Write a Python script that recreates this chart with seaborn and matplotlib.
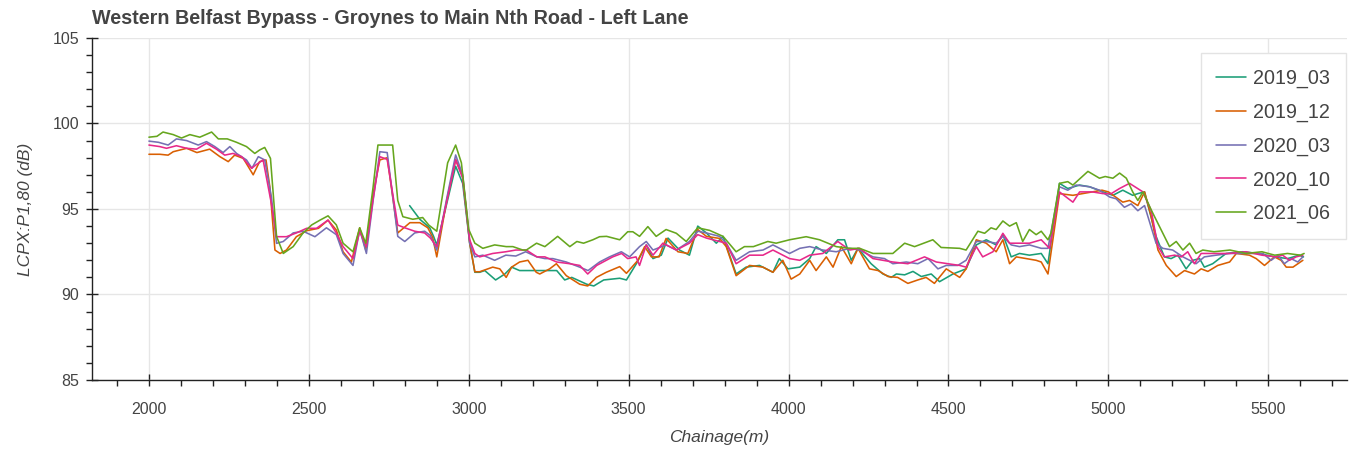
import pandas as pd
import matplotlib
matplotlib.use('Agg')
import matplotlib.pyplot as plt
from matplotlib.ticker import MultipleLocator
import seaborn as sns

# Survey runs (chainage in m, LCPX:P1,80 in dB)
surveys = ['2019_03', '2019_12', '2020_03', '2020_10', '2021_06']

ch_2019_03 = [2815, 2847, 2878, 2890, 2900, 2931, 2959, 2981, 3003, 3019, 3034, 3050, 3084, 3113,
              3134, 3159, 3212, 3275, 3300, 3322, 3369, 3391, 3422, 3472, 3493, 3524, 3555, 3576,
              3602, 3623, 3659, 3690, 3716, 3743, 3774, 3795, 3836, 3867, 3909, 3951, 3971, 3998,
              4035, 4066, 4086, 4118, 4154, 4175, 4196, 4217, 4258, 4295, 4321, 4337, 4363, 4389,
              4415, 4446, 4472, 4514, 4555, 4587, 4618, 4649, 4670, 4696, 4722, 4753, 4790, 4811,
              4847, 4873, 4910, 4941, 4983, 5014, 5045, 5076, 5092, 5113, 5149, 5175, 5196, 5217,
              5243, 5264, 5285, 5300, 5326, 5368, 5420, 5470, 5520, 5560, 5597, 5610]
db_2019_03 = [95.2, 94.4, 93.9, 93.4, 92.9, 95.3, 97.5, 96.5, 93.0, 91.3, 91.3, 91.4, 90.85, 91.2,
              91.6, 91.4, 91.4, 91.4, 90.85, 91.0, 90.6, 90.5, 90.85, 90.95, 90.85, 91.8, 92.9, 92.1,
              92.3, 93.3, 92.6, 92.3, 94.0, 93.6, 93.0, 93.4, 91.2, 91.6, 91.7, 91.3, 92.1, 91.5,
              91.6, 92.1, 92.8, 92.4, 93.2, 93.2, 92.0, 92.7, 91.8, 91.2, 91.0, 91.2, 91.15, 91.35,
              91.05, 91.2, 90.75, 91.2, 91.5, 92.9, 93.2, 92.9, 93.5, 92.2, 92.4, 92.3, 92.4, 91.8,
              96.5, 96.2, 96.4, 96.3, 96.0, 95.8, 96.1, 95.8, 95.9, 96.0, 93.4, 92.2, 92.1, 92.3,
              91.5, 92.0, 92.1, 91.6, 91.8, 92.4, 92.5, 92.4, 92.2, 92.1, 92.3, 92.2]

ch_2019_12 = [2000, 2034, 2060, 2076, 2118, 2150, 2190, 2222, 2248, 2268, 2295, 2326, 2346, 2366,
              2378, 2394, 2410, 2430, 2461, 2493, 2530, 2560, 2586, 2607, 2633, 2659, 2678, 2701,
              2722, 2745, 2778, 2816, 2847, 2872, 2887, 2900, 2931, 2959, 2981, 3003, 3019, 3034,
              3075, 3097, 3117, 3134, 3159, 3185, 3211, 3222, 3253, 3274, 3305, 3347, 3372, 3399,
              3430, 3472, 3493, 3529, 3550, 3571, 3595, 3617, 3654, 3685, 3716, 3743, 3784, 3805,
              3836, 3878, 3920, 3951, 3982, 4008, 4035, 4066, 4086, 4118, 4139, 4165, 4196, 4217,
              4253, 4280, 4311, 4341, 4373, 4404, 4430, 4456, 4493, 4535, 4555, 4587, 4618, 4649,
              4670, 4691, 4712, 4743, 4774, 4790, 4811, 4847, 4889, 4920, 4950, 4980, 5000, 5045,
              5066, 5092, 5113, 5134, 5155, 5181, 5212, 5238, 5269, 5290, 5311, 5342, 5379, 5400,
              5441, 5462, 5488, 5519, 5540, 5556, 5577, 5608]
db_2019_12 = [98.2, 98.2, 98.15, 98.35, 98.55, 98.3, 98.5, 98.06, 97.77, 98.15, 97.96, 97.0, 97.77, 97.87,
              96.3, 92.6, 92.4, 92.6, 93.38, 93.73, 93.87, 94.35, 93.77, 92.5, 91.9, 93.9, 92.6, 95.9,
              97.87, 98.0, 93.6, 94.2, 94.2, 93.9, 93.35, 92.2, 95.5, 97.9, 96.9, 93.0, 91.33, 91.33,
              91.6, 91.5, 91.0, 91.6, 91.9, 92.0, 91.3, 91.2, 91.5, 91.8, 91.1, 90.6, 90.5, 91.0,
              91.3, 91.63, 91.24, 92.0, 92.8, 92.2, 92.2, 93.28, 92.5, 92.4, 93.8, 93.4, 93.28, 92.8,
              91.1, 91.7, 91.6, 91.3, 92.0, 90.9, 91.2, 92.0, 91.4, 92.2, 91.6, 92.8, 91.8, 92.7,
              91.5, 91.4, 91.05, 91.0, 90.65, 90.85, 91.0, 90.65, 91.5, 91.0, 91.5, 93.2, 93.0, 92.5,
              93.2, 91.8, 92.2, 92.1, 92.0, 91.9, 91.2, 95.9, 95.8, 95.9, 96.0, 96.1, 96.0, 95.4,
              95.5, 95.2, 96.0, 94.55, 92.6, 91.7, 91.05, 91.4, 91.2, 91.5, 91.35, 91.7, 91.9, 92.4,
              92.3, 92.1, 91.7, 92.2, 92.0, 91.6, 91.6, 92.0]

ch_2020_03 = [2000, 2030, 2060, 2086, 2118, 2154, 2180, 2206, 2232, 2253, 2274, 2305, 2322, 2342,
              2362, 2383, 2399, 2420, 2451, 2482, 2519, 2555, 2586, 2607, 2638, 2659, 2680, 2701,
              2722, 2745, 2778, 2800, 2831, 2862, 2880, 2900, 2931, 2959, 2981, 3003, 3019, 3044,
              3081, 3116, 3147, 3178, 3213, 3238, 3263, 3305, 3347, 3373, 3409, 3440, 3477, 3503,
              3534, 3555, 3576, 3617, 3649, 3690, 3716, 3743, 3784, 3805, 3836, 3878, 3920, 3951,
              4003, 4035, 4066, 4107, 4149, 4191, 4222, 4264, 4300, 4326, 4368, 4404, 4436, 4467,
              4493, 4529, 4555, 4587, 4618, 4649, 4670, 4696, 4722, 4753, 4790, 4811, 4847, 4873,
              4899, 4941, 4972, 5004, 5024, 5050, 5071, 5092, 5113, 5149, 5170, 5201, 5233, 5254,
              5274, 5300, 5337, 5379, 5430, 5483, 5509, 5530, 5550, 5571, 5592, 5608]
db_2020_03 = [98.97, 98.9, 98.74, 99.1, 99.0, 98.74, 98.94, 98.65, 98.3, 98.65, 98.25, 97.87, 97.38, 98.06,
              97.87, 95.7, 92.99, 93.1, 93.6, 93.7, 93.38, 93.9, 93.5, 92.4, 91.7, 93.8, 92.4, 95.5,
              98.35, 98.3, 93.4, 93.1, 93.6, 93.7, 93.45, 92.6, 95.6, 98.16, 97.0, 93.0, 92.2, 92.3,
              92.0, 92.3, 92.25, 92.5, 92.2, 92.1, 92.1, 91.9, 91.6, 91.4, 91.9, 92.2, 92.5, 92.2,
              92.8, 93.1, 92.6, 92.9, 92.6, 93.1, 93.7, 93.6, 93.4, 93.0, 92.0, 92.5, 92.6, 92.9,
              92.4, 92.7, 92.8, 92.6, 92.5, 92.7, 92.6, 92.2, 92.1, 91.8, 91.9, 91.8, 92.1, 91.5,
              91.7, 91.7, 92.0, 93.1, 93.1, 93.0, 93.4, 92.9, 92.8, 92.9, 92.7, 92.7, 96.3, 96.1,
              96.4, 96.3, 96.1, 95.7, 95.6, 95.1, 95.3, 94.9, 95.2, 93.0, 92.7, 92.6, 92.2, 92.0,
              91.8, 92.2, 92.3, 92.4, 92.4, 92.4, 92.0, 92.3, 91.8, 92.1, 91.9, 92.2]

ch_2020_10 = [2000, 2034, 2055, 2086, 2118, 2149, 2180, 2211, 2237, 2263, 2290, 2321, 2336, 2357,
              2383, 2399, 2430, 2461, 2493, 2524, 2560, 2586, 2607, 2638, 2659, 2680, 2701, 2722,
              2745, 2778, 2800, 2831, 2862, 2880, 2900, 2931, 2959, 2981, 3003, 3019, 3034, 3075,
              3116, 3147, 3180, 3213, 3238, 3275, 3316, 3347, 3372, 3400, 3450, 3478, 3497, 3523,
              3534, 3555, 3576, 3607, 3649, 3690, 3716, 3743, 3784, 3805, 3836, 3878, 3920, 3951,
              4003, 4035, 4066, 4107, 4154, 4191, 4222, 4264, 4326, 4373, 4425, 4462, 4498, 4535,
              4555, 4587, 4607, 4639, 4670, 4691, 4722, 4753, 4790, 4816, 4847, 4889, 4910, 4950,
              4983, 5009, 5035, 5066, 5108, 5134, 5155, 5175, 5207, 5228, 5248, 5269, 5290, 5326,
              5379, 5430, 5480, 5525, 5545, 5566, 5587, 5608]
db_2020_10 = [98.74, 98.65, 98.55, 98.7, 98.55, 98.5, 98.84, 98.5, 98.15, 98.25, 98.06, 97.38, 97.6, 97.87,
              95.3, 93.38, 93.38, 93.6, 93.87, 93.87, 94.35, 93.6, 92.8, 92.1, 93.7, 92.8, 95.6, 98.06,
              97.9, 94.06, 93.9, 93.7, 93.6, 93.3, 92.8, 95.4, 97.87, 96.8, 93.2, 92.4, 92.2, 92.4,
              92.5, 92.6, 92.6, 92.2, 92.2, 91.9, 91.8, 91.7, 91.2, 91.7, 92.2, 92.4, 92.1, 92.2,
              91.7, 92.9, 92.3, 93.0, 92.6, 93.0, 93.5, 93.3, 93.1, 93.0, 91.8, 92.3, 92.3, 92.6,
              92.1, 92.0, 92.3, 92.4, 93.1, 92.6, 92.7, 92.1, 91.9, 91.8, 92.2, 91.9, 91.8, 91.7,
              91.6, 92.8, 92.2, 92.5, 93.58, 93.0, 93.0, 93.0, 93.2, 92.7, 96.0, 95.4, 96.0, 96.0,
              95.9, 95.9, 96.2, 96.5, 96.0, 94.9, 92.8, 92.2, 92.3, 92.2, 92.5, 91.8, 92.4, 92.4,
              92.4, 92.5, 92.3, 92.2, 92.3, 92.0, 92.2, 92.3]

ch_2021_06 = [2000, 2025, 2044, 2076, 2102, 2128, 2159, 2196, 2217, 2245, 2274, 2305, 2331, 2346,
              2362, 2380, 2399, 2420, 2451, 2482, 2509, 2535, 2560, 2586, 2607, 2638, 2659, 2678,
              2701, 2716, 2762, 2778, 2794, 2825, 2856, 2875, 2900, 2934, 2959, 2977, 3000, 3019,
              3044, 3081, 3117, 3138, 3169, 3180, 3212, 3238, 3278, 3316, 3338, 3359, 3388, 3409,
              3431, 3472, 3497, 3513, 3534, 3560, 3586, 3617, 3649, 3680, 3716, 3753, 3795, 3836,
              3862, 3890, 3935, 3961, 4003, 4055, 4097, 4149, 4191, 4222, 4264, 4326, 4363, 4394,
              4451, 4477, 4535, 4555, 4592, 4613, 4633, 4649, 4670, 4691, 4712, 4732, 4753, 4774,
              4790, 4811, 4821, 4847, 4873, 4889, 4936, 4972, 4990, 5014, 5035, 5056, 5076, 5092,
              5108, 5134, 5170, 5191, 5212, 5233, 5254, 5274, 5295, 5330, 5380, 5430, 5480, 5520,
              5560, 5600, 5612]
db_2021_06 = [99.2, 99.25, 99.5, 99.35, 99.15, 99.35, 99.2, 99.5, 99.1, 99.1, 98.9, 98.65, 98.25, 98.45,
              98.6, 97.96, 93.4, 92.4, 92.8, 93.6, 94.07, 94.35, 94.6, 94.07, 93.0, 92.5, 93.9, 93.0,
              96.3, 98.74, 98.74, 95.5, 94.55, 94.4, 94.5, 94.06, 93.7, 97.7, 98.74, 97.7, 93.8, 93.0,
              92.7, 92.9, 92.8, 92.8, 92.6, 92.6, 93.0, 92.8, 93.4, 92.8, 93.1, 93.0, 93.2, 93.38,
              93.4, 93.2, 93.67, 93.67, 93.4, 93.97, 93.4, 93.8, 93.58, 93.1, 93.9, 93.75, 93.4, 92.5,
              92.8, 92.8, 93.1, 93.0, 93.2, 93.38, 93.2, 92.8, 92.7, 92.7, 92.4, 92.4, 93.0, 92.8,
              93.2, 92.75, 92.7, 92.6, 93.7, 93.58, 93.9, 93.8, 94.3, 94.0, 94.2, 93.1, 93.8, 93.5,
              93.7, 93.2, 93.6, 96.5, 96.6, 96.4, 97.2, 96.8, 96.9, 96.8, 97.1, 96.8, 96.0, 95.5,
              96.0, 94.94, 93.58, 92.8, 93.1, 92.6, 93.0, 92.4, 92.6, 92.5, 92.6, 92.4, 92.5, 92.3,
              92.4, 92.3, 92.4]

chainages = [ch_2019_03, ch_2019_12, ch_2020_03, ch_2020_10, ch_2021_06]
levels = [db_2019_03, db_2019_12, db_2020_03, db_2020_10, db_2021_06]

frames = []
for name, ch, db in zip(surveys, chainages, levels):
    frames.append(pd.DataFrame({'Chainage': ch, 'LCPX': db, 'Survey': name}))
df = pd.concat(frames, ignore_index=True)

sns.set_style('white')
plt.rcParams['font.family'] = ['Liberation Sans', 'DejaVu Sans']

fig = plt.figure(figsize=(13.49, 4.5), dpi=100)
ax = fig.add_axes([92 / 1349, 1 - 380 / 450, 1255 / 1349, 342 / 450])

sns.lineplot(data=df, x='Chainage', y='LCPX', hue='Survey', hue_order=surveys,
             palette='Dark2', estimator=None, sort=False, linewidth=1.15, ax=ax)

ax.set_xlim(1822, 5746)
ax.set_ylim(85, 105)
ax.xaxis.set_major_locator(MultipleLocator(500))
ax.xaxis.set_minor_locator(MultipleLocator(100))
ax.yaxis.set_major_locator(MultipleLocator(5))
ax.yaxis.set_minor_locator(MultipleLocator(1))
ax.grid(True, which='major', color='#e6e6e6', linewidth=1.0)
ax.set_axisbelow(True)

for side in ['top', 'right']:
    ax.spines[side].set_visible(False)
for side in ['left', 'bottom']:
    ax.spines[side].set_color('#222222')
    ax.spines[side].set_linewidth(1.0)

# bokeh-like ticks: majors cross the axis line, minors stick out
ax.tick_params(which='both', bottom=True, left=True, top=False, right=False)
ax.tick_params(which='major', direction='inout', length=8, width=1, color='#222222',
               labelsize=11.5, labelcolor='#444444', pad=5)
ax.tick_params(which='minor', direction='out', length=4, width=1, color='#222222')
ax.tick_params(axis='x', which='major', pad=12)

ax.set_xlabel('Chainage(m)', fontsize=12.5, style='italic', color='#444444', labelpad=9)
ax.set_ylabel('LCPX:P1,80 (dB)', fontsize=12.5, style='italic', color='#444444', labelpad=14)

fig.text(92 / 1349, 1 - 18 / 450, 'Western Belfast Bypass - Groynes to Main Nth Road - Left Lane',
         fontsize=14.2, fontweight='bold', color='#444444', va='center', ha='left')

leg = ax.legend(loc='upper right', bbox_to_anchor=(0.999, 0.956), borderaxespad=0,
                fontsize=14.2, frameon=True, fancybox=False, framealpha=1,
                handlelength=1.5, handletextpad=0.35, labelspacing=0.74, borderpad=0.8)
leg.get_frame().set_edgecolor('#e3e3e3')
leg.get_frame().set_linewidth(1.0)
for t in leg.get_texts():
    t.set_color('#444444')

fig.savefig('out.png', dpi=100)
plt.close(fig)
